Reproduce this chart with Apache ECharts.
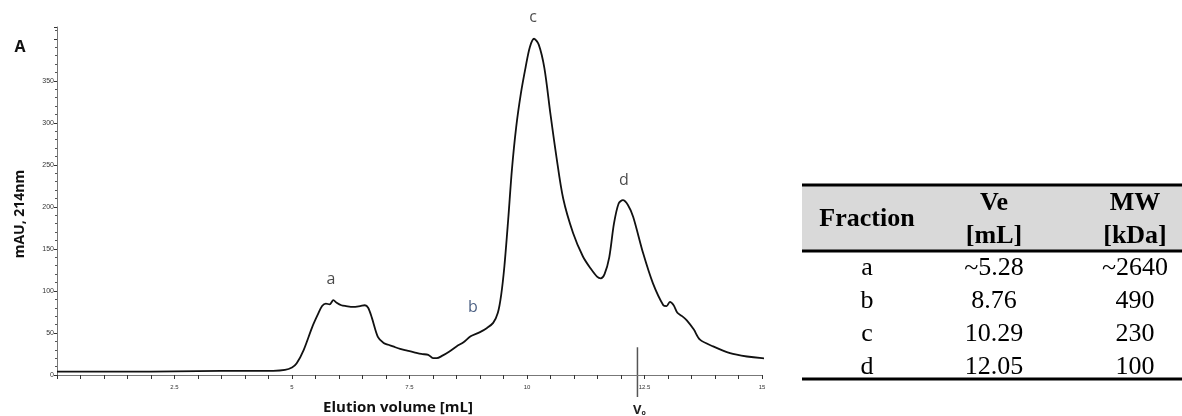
<!DOCTYPE html>
<html>
<head>
<meta charset="utf-8">
<script src="https://cdn.jsdelivr.net/npm/echarts@6/dist/echarts.min.js"></script>
<style>
  html, body { margin: 0; padding: 0; background: #fff; }
  #chart { width: 1182px; height: 416px; }
</style>
</head>
<body>
<div id="chart"></div>
<script>
// chromatogram trace
const elutionVolume = [0, 1, 2, 3, 4, 4.6, 4.85, 5.0, 5.1, 5.25, 5.43, 5.55, 5.64, 5.72, 5.8, 5.88, 5.95, 6.05, 6.15, 6.3, 6.45, 6.55, 6.62, 6.7, 6.83, 6.95, 7.05, 7.15, 7.3, 7.45, 7.6, 7.75, 7.9, 8.0, 8.08, 8.2, 8.35, 8.5, 8.65, 8.8, 9.0, 9.15, 9.28, 9.38, 9.45, 9.52, 9.6, 9.68, 9.77, 9.87, 9.97, 10.06, 10.15, 10.25, 10.37, 10.5, 10.62, 10.77, 10.98, 11.19, 11.35, 11.49, 11.57, 11.65, 11.75, 11.85, 11.95, 12.04, 12.15, 12.26, 12.47, 12.68, 12.9, 12.97, 13.04, 13.12, 13.2, 13.3, 13.4, 13.55, 13.68, 13.96, 14.32, 14.68, 15.0, 15.32];
const absorbance = [4, 4, 4, 4.5, 5, 5, 6, 9, 14, 30, 57, 72, 82, 85, 84, 89, 86, 83, 82, 81, 82, 83, 80, 68, 45, 38, 36, 34, 31, 29, 27, 25, 24, 20, 20, 23, 28, 34, 39, 46, 51, 56, 62, 74, 95, 130, 185, 245, 295, 335, 366, 390, 400, 393, 365, 310, 262, 210, 169, 141, 127, 117, 115, 120, 140, 180, 204, 208, 202, 188, 145, 109, 83, 82, 87, 83, 74, 70, 65, 54, 42, 34, 26, 22, 20, 19];

// peak letters
const peakNames = ["a", "b", "c", "d"];
const peakLabelX = [5.83, 8.85, 10.13, 12.06];
const peakLabelY = [114, 80, 425, 232];

const voidVolume = 12.35;

// table
const tableHeader = [["Fraction"], ["Ve", "[mL]"], ["MW", "[kDa]"]];
const tableFraction = ["a", "b", "c", "d"];
const tableVe = ["~5.28", "8.76", "10.29", "12.05"];
const tableMw = ["~2640", "490", "230", "100"];

const myChart = echarts.init(document.getElementById("chart"));

const lineData = elutionVolume.map((x, i) => [x, absorbance[i]]);
const labelData = peakNames.map((name, i) => ({
  name: name,
  value: [peakLabelX[i], peakLabelY[i]],
  label: { color: name === "b" ? "#1f3864" : "#1a1a1a" }
}));

const option = {
  animation: false,
  backgroundColor: "#fff",
  grid: { left: 57, right: 420, top: 27, bottom: 41, containLabel: false },
  xAxis: {
    type: "value",
    min: 0,
    max: 15,
    interval: 0.5,
    axisLine: { show: true, onZero: false, lineStyle: { color: "#777", width: 1 } },
    axisTick: { show: true, length: 4, lineStyle: { color: "#333" } },
    splitLine: { show: false },
    axisLabel: {
      fontSize: 6,
      color: "#333",
      margin: 9,
      formatter: (v) => {
        if (v === 0) return "";
        return Math.abs(v / 2.5 - Math.round(v / 2.5)) < 1e-6 ? String(v) : "";
      }
    }
  },
  yAxis: {
    type: "value",
    min: 0,
    max: 414,
    interval: 50,
    axisLine: { show: true, lineStyle: { color: "#777", width: 1 } },
    axisTick: { show: true, length: 3, lineStyle: { color: "#333" } },
    minorTick: { show: true, splitNumber: 5, length: 2, lineStyle: { color: "#555" } },
    splitLine: { show: false },
    axisLabel: {
      fontSize: 7,
      color: "#333",
      margin: 3,
      formatter: (v) => (v >= 400 ? "" : String(v))
    }
  },
  series: [
    {
      type: "line",
      data: lineData,
      showSymbol: false,
      smooth: 0.3,
      clip: false,
      lineStyle: { color: "#111", width: 1.8 }
    },
    {
      type: "scatter",
      data: labelData,
      symbolSize: 0,
      clip: false,
      label: {
        show: true,
        position: "inside",
        formatter: "{b}",
        fontSize: 16,
        fontFamily: "Open Sans"
      }
    }
  ]
};

myChart.setOption(option);

// extra text, void volume marker and table
const graphics = [];
graphics.push({
  type: "text", x: 20, y: 47,
  style: { text: "A", font: "bold 16px 'Open Sans'", fill: "#111", align: "center", verticalAlign: "middle" }
});
graphics.push({
  type: "text", x: 20, y: 214, rotation: Math.PI / 2,
  style: { text: "mAU, 214nm", font: "bold 14px 'Open Sans'", fill: "#111", align: "center", verticalAlign: "middle" }
});
graphics.push({
  type: "text", x: 398, y: 408,
  style: { text: "Elution volume [mL]", font: "bold 15px 'Open Sans'", fill: "#111", align: "center", verticalAlign: "middle" }
});

const vTop = myChart.convertToPixel({ gridIndex: 0 }, [voidVolume, 33]);
const vBase = myChart.convertToPixel({ gridIndex: 0 }, [voidVolume, 0]);
graphics.push({
  type: "line",
  shape: { x1: vTop[0], y1: vTop[1], x2: vTop[0], y2: vBase[1] + 22 },
  style: { stroke: "#555", lineWidth: 1.5 }
});
graphics.push({
  type: "text", x: vTop[0] + 2, y: 410,
  style: {
    text: "{v|V}{s|o}",
    align: "center", verticalAlign: "middle",
    rich: {
      v: { font: "bold 13px 'Open Sans'", fill: "#222" },
      s: { font: "bold 7px 'Open Sans'", fill: "#222", padding: [6, 0, 0, 0] }
    }
  }
});

// table
const tLeft = 802, tRight = 1182;
const colX = [867, 994, 1135];
const headTop = 185, headBottom = 251, tableBottom = 379;
const rowY0 = 268, rowStep = 33;
graphics.push({
  type: "rect", shape: { x: tLeft, y: headTop, width: tRight - tLeft, height: headBottom - headTop },
  style: { fill: "#d9d9d9" }
});
[headTop, headBottom, tableBottom].forEach((y) => {
  graphics.push({
    type: "line", shape: { x1: tLeft, y1: y, x2: tRight, y2: y },
    style: { stroke: "#000", lineWidth: 3 }
  });
});
tableHeader.forEach((lines, c) => {
  if (lines.length === 1) {
    graphics.push({
      type: "text", x: colX[c], y: 219,
      style: { text: lines[0], font: "bold 26px 'Liberation Serif'", fill: "#000", align: "center", verticalAlign: "middle" }
    });
  } else {
    lines.forEach((t, k) => {
      graphics.push({
        type: "text", x: colX[c], y: 203 + k * 33,
        style: { text: t, font: "bold 26px 'Liberation Serif'", fill: "#000", align: "center", verticalAlign: "middle" }
      });
    });
  }
});
tableFraction.forEach((f, r) => {
  [f, tableVe[r], tableMw[r]].forEach((t, c) => {
    graphics.push({
      type: "text", x: colX[c], y: rowY0 + r * rowStep,
      style: { text: t, font: "26px 'Liberation Serif'", fill: "#000", align: "center", verticalAlign: "middle" }
    });
  });
});

myChart.setOption({ graphic: graphics });
</script>
</body>
</html>
